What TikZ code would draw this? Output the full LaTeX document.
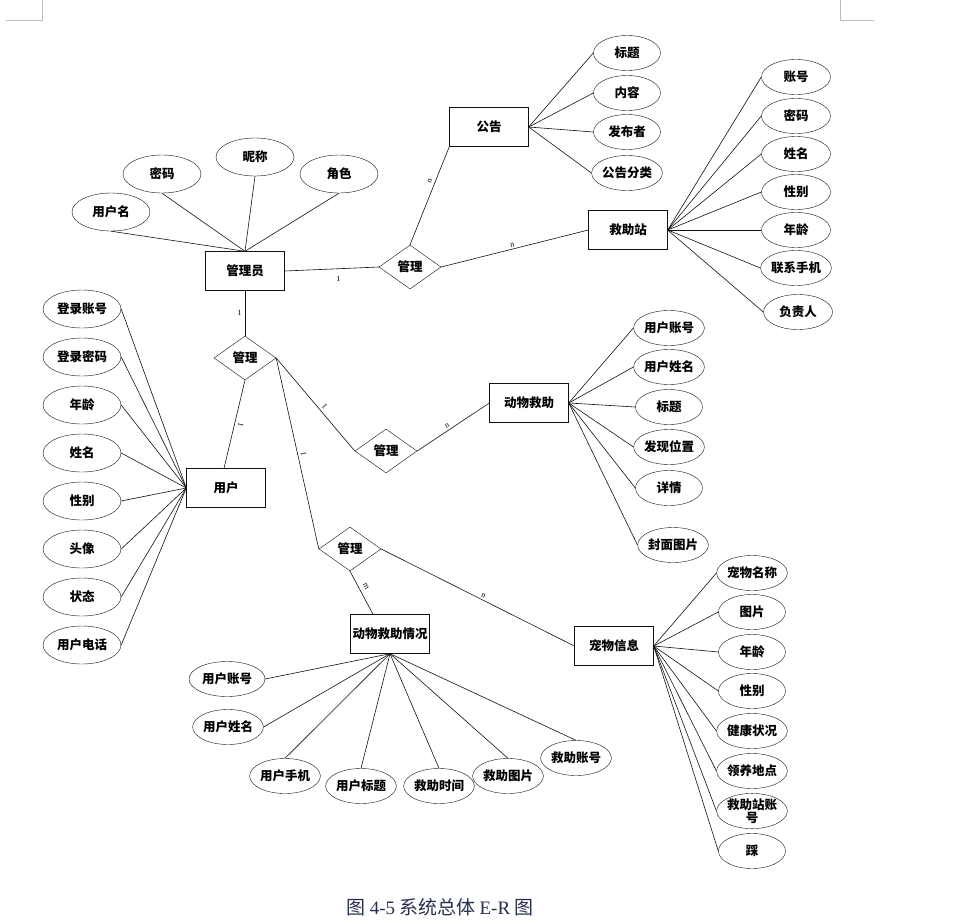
\documentclass[tikz,border=0pt]{standalone}
\usepackage{fontspec}
\setmainfont{Noto Sans CJK SC}
\newfontfamily\romanfont{Liberation Serif}
\usetikzlibrary{shapes.geometric,positioning}
\definecolor{LineBlack}{HTML}{111111}
\definecolor{CaptionBlue}{HTML}{26304E}
\definecolor{CornerGrey}{HTML}{BDBDBD}

\begin{document}
\begin{tikzpicture}[x=1pt,y=-1pt,
  entity/.style={draw=LineBlack, rectangle, minimum width=79pt, minimum height=39pt, inner sep=0pt, font=\fontsize{12.5}{14}\selectfont\bfseries},
  relation/.style={draw=LineBlack, diamond, minimum width=62pt, minimum height=44pt, inner sep=0pt, font=\fontsize{12.5}{14}\selectfont\bfseries},
  attr/.style={draw=LineBlack, ellipse, minimum width=78pt, minimum height=38pt, inner sep=0pt, font=\fontsize{12.5}{14}\selectfont\bfseries},
  sattr/.style={attr, minimum width=67pt, minimum height=35pt},
  card/.style={font=\romanfont\fontsize{8}{9}\selectfont, inner sep=1pt},
  link/.style={draw=LineBlack, line width=0.6pt}]
\useasboundingbox (0,0) rectangle (970,924);
\draw[CornerGrey] (42,0) -- (42,20) -- (6,20);
\draw[CornerGrey] (840,0) -- (840,20) -- (874,20);

\node[entity] (admin) at (245,271) {管理员};
\node[entity] (notice) at (489,127) {公告};
\node[entity] (station) at (628,230) {救助站};
\node[entity] (user) at (226,488) {用户};
\node[entity] (rescue) at (529,403) {动物救助};
\node[entity] (situation) at (390,634) {动物救助情况};
\node[entity] (pet) at (614,646) {宠物信息};

\node[relation] (relTop) at (410,267) {管理};
\node[relation] (relMid) at (245,358) {管理};
\node[relation] (relAni) at (386,451) {管理};
\node[relation] (relBot) at (350,549) {管理};

\node[attr] (adUser) at (111,212) {用户名};
\node[attr] (adPwd) at (162,174) {密码};
\node[attr] (adNick) at (255,157) {昵称};
\node[attr] (adRole) at (339,174) {角色};
\draw[link] (adUser.south) -- (admin.north);
\draw[link] (adPwd.south) -- (admin.north);
\draw[link] (adNick.south) -- (admin.north);
\draw[link] (adRole.south) -- (admin.north);

\node[sattr] (ntTitle) at (627,53) {标题};
\node[sattr] (ntBody) at (627,93) {内容};
\node[sattr] (ntAuthor) at (627,132) {发布者};
\node[sattr] (ntType) at (627,173) {公告分类};
\draw[link] (notice.east) -- (ntTitle.west);
\draw[link] (notice.east) -- (ntBody.west);
\draw[link] (notice.east) -- (ntAuthor.west);
\draw[link] (notice.east) -- (ntType.west);

\node[sattr, minimum width=69pt] (stAcc) at (796,77) {账号};
\node[sattr, minimum width=69pt] (stPwd) at (796,116) {密码};
\node[sattr, minimum width=69pt] (stName) at (796,154) {姓名};
\node[sattr, minimum width=69pt] (stSex) at (796,192) {性别};
\node[sattr, minimum width=69pt] (stAge) at (796,230) {年龄};
\node[sattr, minimum width=69pt] (stPhone) at (796,268) {联系手机};
\node[sattr, minimum width=69pt] (stHead) at (798,312) {负责人};
\draw[link] (station.east) -- (stAcc.west);
\draw[link] (station.east) -- (stPwd.west);
\draw[link] (station.east) -- (stName.west);
\draw[link] (station.east) -- (stSex.west);
\draw[link] (station.east) -- (stAge.west);
\draw[link] (station.east) -- (stPhone.west);
\draw[link] (station.east) -- (stHead.west);

\node[attr] (usAcc) at (82,309) {登录账号};
\node[attr] (usPwd) at (82,357) {登录密码};
\node[attr] (usAge) at (82,405) {年龄};
\node[attr] (usName) at (82,453) {姓名};
\node[attr] (usSex) at (82,501) {性别};
\node[attr] (usAvatar) at (82,549) {头像};
\node[attr] (usState) at (82,597) {状态};
\node[attr] (usPhone) at (82,645) {用户电话};
\draw[link] (usAcc.east) -- (user.west);
\draw[link] (usPwd.east) -- (user.west);
\draw[link] (usAge.east) -- (user.west);
\draw[link] (usName.east) -- (user.west);
\draw[link] (usSex.east) -- (user.west);
\draw[link] (usAvatar.east) -- (user.west);
\draw[link] (usState.east) -- (user.west);
\draw[link] (usPhone.east) -- (user.west);

\node[sattr] (reAcc) at (669,328) {用户账号};
\node[sattr] (reName) at (669,367) {用户姓名};
\node[sattr] (reTitle) at (669,407) {标题};
\node[sattr] (rePlace) at (669,447) {发现位置};
\node[sattr] (reInfo) at (669,488) {详情};
\node[sattr] (reCover) at (673,545) {封面图片};
\draw[link] (rescue.east) -- (reAcc.west);
\draw[link] (rescue.east) -- (reName.west);
\draw[link] (rescue.east) -- (reTitle.west);
\draw[link] (rescue.east) -- (rePlace.west);
\draw[link] (rescue.east) -- (reInfo.west);
\draw[link] (rescue.east) -- (reCover.west);

\node[sattr, minimum width=76pt] (siAcc) at (227,679) {用户账号};
\node[sattr] (siName) at (228,727) {用户姓名};
\node[sattr] (siPhone) at (285,776) {用户手机};
\node[sattr] (siTitle) at (361,786) {用户标题};
\node[sattr] (siTime) at (439,786) {救助时间};
\node[sattr] (siPic) at (508,776) {救助图片};
\node[sattr] (siRescuer) at (576,758) {救助账号};
\draw[link] (situation.south) -- (siAcc.east);
\draw[link] (situation.south) -- (siName.east);
\draw[link] (situation.south) -- (siPhone.north);
\draw[link] (situation.south) -- (siTitle.north);
\draw[link] (situation.south) -- (siTime.north);
\draw[link] (situation.south) -- (siPic.north);
\draw[link] (situation.south) -- (siRescuer.north);

\node[sattr] (ptName) at (752,573) {宠物名称};
\node[sattr] (ptPic) at (752,612) {图片};
\node[sattr] (ptAge) at (752,652) {年龄};
\node[sattr] (ptSex) at (752,691) {性别};
\node[sattr] (ptHealth) at (752,731) {健康状况};
\node[sattr] (ptPlace) at (752,771) {领养地点};
\node[sattr, align=center, font=\fontsize{12.5}{13}\selectfont\bfseries] (ptStation) at (752,811) {救助站账\\号};
\node[sattr] (ptDislike) at (752,851) {踩};
\draw[link] (pet.east) -- (ptName.west);
\draw[link] (pet.east) -- (ptPic.west);
\draw[link] (pet.east) -- (ptAge.west);
\draw[link] (pet.east) -- (ptSex.west);
\draw[link] (pet.east) -- (ptHealth.west);
\draw[link] (pet.east) -- (ptPlace.west);
\draw[link] (pet.east) -- (ptStation.west);
\draw[link] (pet.east) -- (ptDislike.west);

\draw[link] (admin.east) -- node[card, pos=0.57, below=6pt] {1} (relTop.west);
\draw[link] (relTop.north) -- node[card, pos=0.63, sloped, above=2pt] {n} (notice.south west);
\draw[link] (relTop.east) -- node[card, pos=0.49, sloped, above=1pt] {n} (station.west);
\draw[link] (admin.south) -- node[card, pos=0.5, left=2pt] {1} (relMid.north);
\draw[link] (relMid.south) -- node[card, pos=0.49, sloped, below=2pt] {1} ([xshift=-2pt]user.north);
\draw[link] (relMid.east) -- node[card, pos=0.56, sloped, above=2pt] {1} (relAni.west);
\draw[link] (relAni.east) -- node[card, pos=0.45, sloped, above=1pt] {n} (rescue.west);
\draw[link] (relMid.east) -- node[card, pos=0.51, sloped, above=2pt] {1} (relBot.west);
\draw[link] (relBot.south) -- node[card, pos=0.42, sloped, above=4pt] {m} ([xshift=-17pt]situation.north);
\draw[link] (relBot.east) -- node[card, pos=0.52, sloped, above=1pt] {n} (pet.west);

\node[text=CaptionBlue, font=\fontsize{19}{21}\selectfont] (caption) at (440,907) {图 {\romanfont 4-5} 系统总体 {\romanfont E-R} 图};
\end{tikzpicture}
\end{document}
